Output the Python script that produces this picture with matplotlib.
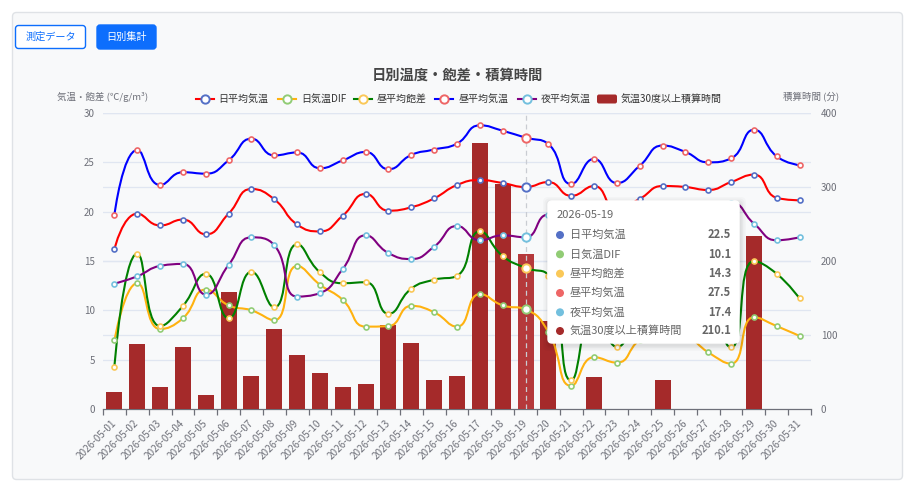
import numpy as np
import matplotlib
matplotlib.use('Agg')
import matplotlib.pyplot as plt
from matplotlib.path import Path
from matplotlib.patches import PathPatch, FancyBboxPatch, Circle
from matplotlib.lines import Line2D

plt.rcParams['font.family'] = ['Noto Sans CJK JP', 'DejaVu Sans']

# ---------------- data ----------------
dates = ["2026-05-01", "2026-05-02", "2026-05-03", "2026-05-04", "2026-05-05",
         "2026-05-06", "2026-05-07", "2026-05-08", "2026-05-09", "2026-05-10",
         "2026-05-11", "2026-05-12", "2026-05-13", "2026-05-14", "2026-05-15",
         "2026-05-16", "2026-05-17", "2026-05-18", "2026-05-19", "2026-05-20",
         "2026-05-21", "2026-05-22", "2026-05-23", "2026-05-24", "2026-05-25",
         "2026-05-26", "2026-05-27", "2026-05-28", "2026-05-29", "2026-05-30",
         "2026-05-31"]

daily_mean = [16.2, 19.8, 18.6, 19.2, 17.7, 19.8, 22.3, 21.25, 18.7, 18.0,
              19.6, 21.8, 20.1, 20.45, 21.35, 22.7, 23.2, 22.9, 22.5, 23.0,
              21.6, 22.6, 20.2, 21.3, 22.6, 22.5, 22.2, 23.0, 23.75, 21.4, 21.15]
dif = [6.95, 12.75, 8.1, 9.2, 12.1, 10.5, 10.0, 9.0, 14.5, 12.6,
       11.05, 8.35, 8.4, 10.45, 9.8, 8.35, 11.65, 10.5, 10.1, 7.8,
       2.35, 5.25, 4.7, 7.0, 8.0, 7.5, 5.75, 4.6, 9.3, 8.4, 7.4]
day_vpd = [4.3, 15.75, 8.4, 10.45, 13.7, 9.2, 13.9, 10.3, 16.7, 13.85,
           12.75, 12.85, 9.65, 12.2, 13.1, 13.5, 18.0, 15.5, 14.3, 13.5,
           2.9, 10.0, 6.3, 10.5, 12.5, 12.0, 10.5, 6.25, 15.0, 13.7, 11.2]
day_temp = [19.7, 26.25, 22.7, 24.0, 23.85, 25.2, 27.4, 25.7, 26.0, 24.4,
            25.2, 26.05, 24.3, 25.75, 26.3, 26.9, 28.75, 28.2, 27.5, 26.85,
            22.8, 25.35, 22.9, 24.65, 26.7, 26.05, 25.0, 25.4, 28.3, 25.6, 24.7]
night_temp = [12.7, 13.45, 14.5, 14.7, 11.6, 14.6, 17.4, 16.6, 11.4, 11.75,
              14.2, 17.6, 15.8, 15.2, 16.45, 18.55, 17.1, 17.6, 17.4, 19.7,
              19.5, 19.8, 19.2, 19.6, 20.2, 19.9, 20.5, 20.9, 18.8, 17.1, 17.4]
hot_minutes = [23.4, 88.3, 29.3, 83.8, 18.9, 158.6, 44.1, 108.6, 73.4, 49.1,
               29.3, 33.8, 113.5, 88.7, 38.7, 44.1, 359.0, 303.6, 210.1, 119.4,
               0, 42.8, 0, 0, 39.2, 0, 0, 0, 234.0, 0, 0]

series_names = ["日平均気温", "日気温DIF", "昼平均飽差", "昼平均気温", "夜平均気温"]
bar_name = "気温30度以上積算時間"
left_ticks = [0, 5, 10, 15, 20, 25, 30]
right_ticks = [0, 100, 200, 300, 400]
title = "日別温度・飽差・積算時間"
left_axis_name = "気温・飽差 (℃/g/m³)"
right_axis_name = "積算時間 (分)"
focus_index = 18

line_series = [daily_mean, dif, day_vpd, day_temp, night_temp]
line_colors = ["#ff0000", "#ffb20f", "#008000", "#0000ff", "#800080"]
marker_colors = ["#5470c6", "#91cc75", "#fac858", "#ee6666", "#73c0de"]
bar_color = "#a52a2a"

# ---------------- layout ----------------
W, H = 916, 492
AX_L, AX_T, AX_R, AX_B = 103, 113, 811, 409
fig = plt.figure(figsize=(W / 100, H / 100), dpi=100)


def frac(x0, y0, x1, y1):
    return [x0 / W, 1 - y1 / H, (x1 - x0) / W, (y1 - y0) / H]


ax_bg = fig.add_axes([0, 0, 1, 1], zorder=0)
ax_bg.set_xlim(0, W)
ax_bg.set_ylim(H, 0)
ax_bg.axis('off')
ax_bg.add_patch(FancyBboxPatch((12.5, 12.5), 890, 467,
                               boxstyle="round,pad=0,rounding_size=4",
                               fc="#f8f9fa", ec="#dfe2e6", lw=1))

ax_bar = fig.add_axes(frac(AX_L, AX_T, AX_R, AX_B), zorder=1)
ax_bar.patch.set_visible(False)
ax_line = ax_bar.twinx()
ax_line.set_zorder(2)
ax_line.patch.set_visible(False)

n = len(dates)
xs = np.arange(n)

# grid (both axes' split lines), drawn beneath bars
for t in right_ticks[1:]:
    ax_bar.axhline(t, color="#e0e6f1", lw=0.9, zorder=0)
for t in left_ticks[1:]:
    ax_bar.axhline(t / left_ticks[-1] * right_ticks[-1], color="#e0e6f1", lw=0.9, zorder=0)

bar_cols = [bar_color] * n
bar_cols[focus_index] = "#b5393b"
ax_bar.bar(xs, hot_minutes, width=0.7, color=bar_cols, zorder=3)
ax_bar.axvline(focus_index, color="#c9ccd2", lw=0.9, ls=(0, (4, 3)), zorder=5)

ax_bar.set_xlim(-0.5, n - 0.5)
ax_bar.set_ylim(right_ticks[0], right_ticks[-1])
ax_line.set_ylim(left_ticks[0], left_ticks[-1])

ax_bar.yaxis.tick_right()
ax_line.yaxis.tick_left()
ax_bar.set_yticks(right_ticks)
ax_line.set_yticks(left_ticks)
ax_bar.tick_params(axis='y', length=0, pad=7, labelsize=7, labelcolor="#6e7079")
ax_line.tick_params(axis='y', length=0, pad=6, labelsize=7, labelcolor="#6e7079")

ax_bar.set_xticks(xs)
ax_bar.set_xticklabels(dates, rotation=45, ha='right', va='center',
                       rotation_mode='anchor', fontsize=7.2, color="#6e7079")
ax_bar.set_xticks(np.arange(-0.5, n, 1), minor=True)
ax_bar.tick_params(axis='x', which='major', length=0, pad=9)
ax_bar.tick_params(axis='x', which='minor', length=4, width=0.9, color="#6e7079")

for a in (ax_bar, ax_line):
    for s in a.spines.values():
        s.set_visible(False)
ax_bar.spines['bottom'].set_visible(True)
ax_bar.spines['bottom'].set_color("#6e7079")
ax_bar.spines['bottom'].set_linewidth(0.9)

# --- ECharts-like smoothing in pixel space ---
px_x = (AX_R - AX_L) / n
px_y = (AX_B - AX_T) / (left_ticks[-1] - left_ticks[0])


def smooth_path(xv, yv, smooth=0.5):
    X = [x * px_x for x in xv]
    Y = [y * px_y for y in yv]
    verts = [(X[0], Y[0])]
    codes = [Path.MOVETO]
    cpx0, cpy0 = X[0], Y[0]
    prevX, prevY = X[0], Y[0]
    m = len(X)
    for i in range(1, m):
        x, y = X[i], Y[i]
        if i + 1 >= m:
            cpx1, cpy1 = x, y
            nx0, ny0 = x, y
        else:
            nextX, nextY = X[i + 1], Y[i + 1]
            vx = nextX - prevX
            vy = nextY - prevY
            lp = np.hypot(x - prevX, y - prevY)
            ln = np.hypot(nextX - x, nextY - y)
            r = ln / (ln + lp)
            nx0 = x + vx * smooth * r
            ny0 = y + vy * smooth * r
            nx0 = min(nx0, max(nextX, x)); ny0 = min(ny0, max(nextY, y))
            nx0 = max(nx0, min(nextX, x)); ny0 = max(ny0, min(nextY, y))
            vx = nx0 - x; vy = ny0 - y
            cpx1 = x - vx * lp / ln; cpy1 = y - vy * lp / ln
            cpx1 = min(cpx1, max(prevX, x)); cpy1 = min(cpy1, max(prevY, y))
            cpx1 = max(cpx1, min(prevX, x)); cpy1 = max(cpy1, min(prevY, y))
            vx = x - cpx1; vy = y - cpy1
            nx0 = x + vx * ln / lp; ny0 = y + vy * ln / lp
        verts += [(cpx0, cpy0), (cpx1, cpy1), (x, y)]
        codes += [Path.CURVE4] * 3
        cpx0, cpy0 = nx0, ny0
        prevX, prevY = x, y
    verts = [(vx_ / px_x, vy_ / px_y) for vx_, vy_ in verts]
    return Path(verts, codes)


for vals, lc, mc in zip(line_series, line_colors, marker_colors):
    ax_line.add_patch(PathPatch(smooth_path(xs, vals), fill=False, ec=lc, lw=1.5,
                                zorder=3, capstyle='round', joinstyle='round'))
    ax_line.plot(xs, vals, 'o', ms=3.6, mfc='white', mec=mc, mew=1.2, zorder=4)
    ax_line.plot([xs[focus_index]], [vals[focus_index]], 'o', ms=6, mfc='white',
                 mec=mc, mew=1.4, zorder=5)

# ---------------- overlay: title, legend, buttons, tooltip ----------------
ax_ov = fig.add_axes([0, 0, 1, 1], zorder=10)
ax_ov.set_xlim(0, W)
ax_ov.set_ylim(H, 0)
ax_ov.axis('off')
ax_ov.patch.set_visible(False)

# buttons
ax_ov.add_patch(FancyBboxPatch((15.5, 25.5), 70, 23, boxstyle="round,pad=0,rounding_size=3",
                               fc="white", ec="#0d6efd", lw=1))
ax_ov.text(50.5, 37, "測定データ", ha='center', va='center', fontsize=7.3, color="#0d6efd")
ax_ov.add_patch(FancyBboxPatch((97, 25), 59, 24, boxstyle="round,pad=0,rounding_size=3",
                               fc="#0d6efd", ec="#0d6efd", lw=1))
ax_ov.text(126.5, 37, "日別集計", ha='center', va='center', fontsize=7.3, color="white")

ax_ov.text(457, 76, title, ha='center', va='center', fontsize=10.3, weight='bold', color="#464646")
ax_ov.text(AX_L, 97, left_axis_name, ha='center', va='center', fontsize=6.8, color="#6e7079")
ax_ov.text(AX_R, 96, right_axis_name, ha='center', va='center', fontsize=6.8, color="#6e7079")

# legend
leg_y = 99
icon_cx = [205, 287, 363, 444, 527]
text_x = [218, 301, 377, 459, 541]
for name, lc, mc, cx, tx in zip(series_names, line_colors, marker_colors, icon_cx, text_x):
    ax_ov.add_line(Line2D([cx - 9, cx + 9], [leg_y, leg_y], color=lc, lw=1.5))
    ax_ov.plot([cx], [leg_y], 'o', ms=6, mfc='white', mec=mc, mew=1.4)
    ax_ov.text(tx, leg_y, name, ha='left', va='center', fontsize=7.2, color="#333333")
ax_ov.add_patch(FancyBboxPatch((597, 94.5), 20, 9, boxstyle="round,pad=0,rounding_size=2",
                               fc=bar_color, ec='none'))
ax_ov.text(621, leg_y, bar_name, ha='left', va='center', fontsize=7.2, color="#333333")

# tooltip
tx0, ty0, tw, th = 548, 201, 191, 142
for k, al in enumerate([0.035, 0.03, 0.025, 0.02]):
    g = 1.5 + k * 1.5
    ax_ov.add_patch(FancyBboxPatch((tx0 - g + 1, ty0 - g + 2), tw + 2 * g, th + 2 * g,
                                   boxstyle="round,pad=0,rounding_size=5",
                                   fc='black', ec='none', alpha=al))
ax_ov.add_patch(FancyBboxPatch((tx0, ty0), tw, th, boxstyle="round,pad=0,rounding_size=4",
                               fc='white', ec='white', lw=1))
ax_ov.text(557, 215, dates[focus_index], ha='left', va='center', fontsize=8, color="#666666")
row_y = [235, 254.3, 273.7, 293, 312.3, 331]
tip_names = series_names + [bar_name]
tip_vals = [s[focus_index] for s in line_series] + [hot_minutes[focus_index]]
tip_cols = marker_colors + [bar_color]
for ry, nm, v, c in zip(row_y, tip_names, tip_vals, tip_cols):
    ax_ov.add_patch(Circle((560, ry), 4, fc=c, ec='none'))
    ax_ov.text(570, ry, nm, ha='left', va='center', fontsize=8, color="#666666")
    ax_ov.text(731, ry, f"{v:.1f}", ha='right', va='center', fontsize=8,
               weight='bold', color="#666666")

fig.savefig("out.png", dpi=100, facecolor="white")
